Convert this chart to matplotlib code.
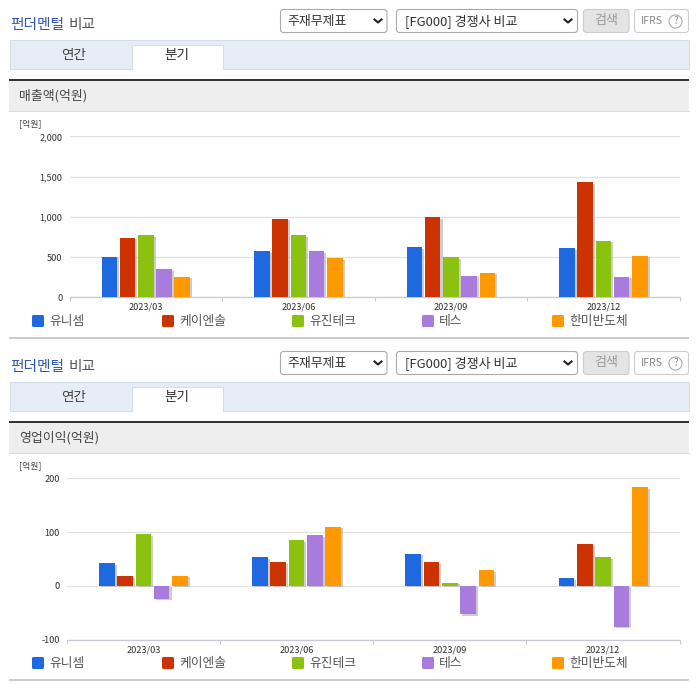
import numpy as np
import matplotlib
matplotlib.use("Agg")
import matplotlib.pyplot as plt
import matplotlib.patheffects as pe
from matplotlib.patches import Rectangle, FancyBboxPatch, Circle

plt.rcParams["font.family"] = ["Noto Sans CJK KR", "DejaVu Sans"]

quarters = ["2023/03", "2023/06", "2023/09", "2023/12"]
companies = ["유니셈", "케이엔솔", "유진테크", "테스", "한미반도체"]
colors = ["#1f69e0", "#cc3300", "#8bc20f", "#a87bdc", "#ff9900"]
legend_x = [32, 162, 292, 422, 552]

# sales, one list per company
sales_unisem = [507, 570, 620, 608]
sales_ksol = [740, 975, 995, 1432]
sales_eugene = [770, 770, 497, 703]
sales_tes = [358, 570, 270, 258]
sales_hanmi = [258, 487, 307, 517]

# operating profit
profit_unisem = [42, 53, 60, 14]
profit_ksol = [18, 43.5, 43.5, 77]
profit_eugene = [96, 84.5, 6, 53]
profit_tes = [-24, 94, -53, -76]
profit_hanmi = [19, 110, 29, 183]

sales_ticks = [0, 500, 1000, 1500, 2000]
profit_ticks = [-100, 0, 100, 200]

W, H = 696, 684
fig = plt.figure(figsize=(W / 100, H / 100), dpi=100)

# whole-figure axes in pixel coordinates for the page furniture
bg = fig.add_axes([0, 0, 1, 1])
bg.set_xlim(0, W)
bg.set_ylim(H, 0)
bg.axis("off")


def rounded(x0, y0, x1, y1, face, edge):
    bg.add_patch(FancyBboxPatch((x0 + 3, y0 + 3), x1 - x0 - 6, y1 - y0 - 6,
                                boxstyle="round,pad=3,rounding_size=3",
                                fc=face, ec=edge, lw=0.8))


def chevron(x, y):
    bg.plot([x - 3.5, x, x + 3.5], [y - 1.5, y + 1.5, y - 1.5], color="#222222", lw=1.5)


def draw_frame(dy, title):
    bg.text(10, 25 + dy, "펀더멘털", color="#3159b0", fontsize=10.6,
            fontweight=500, va="center")
    bg.text(69, 25 + dy, "비교", color="#555555", fontsize=10.6,
            fontweight=500, va="center")

    rounded(280.5, 9.5 + dy, 387, 32.5 + dy, "white", "#aaaaaa")
    bg.text(287, 21 + dy, "주재무제표", fontsize=9.3, color="#333333", va="center")
    chevron(378, 21 + dy)
    rounded(396.5, 9.5 + dy, 577.5, 32.5 + dy, "white", "#aaaaaa")
    bg.text(405, 21 + dy, "[FG000] 경쟁사 비교", fontsize=9.4, color="#333333", va="center")
    chevron(568, 21 + dy)
    rounded(583.5, 9.5 + dy, 629, 32.5 + dy, "#e4e4e4", "#cccccc")
    bg.text(606.5, 20.5 + dy, "검색", fontsize=9.4, color="#999999", va="center", ha="center")
    rounded(634.5, 9.5 + dy, 688.5, 32.5 + dy, "white", "#cccccc")
    bg.text(641, 20.5 + dy, "IFRS", fontsize=7.6, color="#888888", va="center")
    bg.add_patch(Circle((675.5, 21.5 + dy), 6.5, fc="white", ec="#aaaaaa", lw=0.8))
    bg.text(675.5, 21.5 + dy, "?", fontsize=7, color="#888888", va="center", ha="center")

    # tab strip, the active tab is open at the bottom
    bg.add_patch(Rectangle((9.5, 39.5 + dy), 679, 29, fc="#e6edf7", ec="#d5dde8", lw=0.8))
    bg.add_patch(Rectangle((131.5, 44.5 + dy), 91, 25, fc="white", ec="none", zorder=2))
    bg.plot([131.5, 131.5, 222.5, 222.5], [69 + dy, 44.5 + dy, 44.5 + dy, 69 + dy],
            color="#d5dde8", lw=0.8, zorder=3)
    bg.text(74, 55 + dy, "연간", fontsize=9.8, color="#444444", ha="center", va="center", zorder=4)
    bg.text(176.5, 55 + dy, "분기", fontsize=9.8, color="#333333", ha="center", va="center", zorder=4)

    bg.add_patch(Rectangle((9, 81 + dy), 680, 30, fc="#eeeeee", ec="none"))
    bg.plot([9, 689], [111 + dy, 111 + dy], color="#dddddd", lw=0.8)
    bg.add_patch(Rectangle((9, 79 + dy), 680, 2, fc="#333333", ec="none"))
    bg.text(19, 96 + dy, title, fontsize=9.3, color="#444444", va="center")
    bg.text(19.5, 123.5 + dy, "[억원]", fontsize=6.4, color="#444444", va="center")

    for x, c, name in zip(legend_x, colors, companies):
        bg.add_patch(FancyBboxPatch((x + 1.5, 316.5 + dy), 9, 9,
                                    boxstyle="round,pad=1.5,rounding_size=1.5", fc=c, ec="none"))
        bg.text(x + 17, 321 + dy, name, fontsize=9.2, color="#555555", va="center")
    bg.add_patch(Rectangle((9, 337 + dy), 680, 2, fc="#cccccc", ec="none"))


def draw_chart(left, right, top, bottom, series, ticks):
    ax = fig.add_axes([left / W, 1 - bottom / H, (right - left) / W, (bottom - top) / H])
    ax.patch.set_alpha(0)
    ax.set_xlim(-0.5, 3.5)
    ax.set_ylim(ticks[0], ticks[-1])
    x = np.arange(len(quarters))
    shadow = [pe.SimplePatchShadow(offset=(1.5, -1.0), shadow_rgbFace="#b8b8b8", alpha=0.7),
              pe.Normal()]
    for i, (vals, c) in enumerate(zip(series, colors)):
        ax.bar(x + (i - 2) * 0.1195, vals, width=0.102, color=c, zorder=3, path_effects=shadow)
    ax.set_yticks(ticks)
    ax.set_yticklabels([f"{v:,}" for v in ticks], fontsize=6.6, color="#333333")
    ax.tick_params(axis="y", length=0, pad=5)
    ax.set_xticks(np.arange(-0.5, 4, 1))
    ax.set_xticklabels([])
    ax.set_xticks(x, minor=True)
    ax.set_xticklabels(quarters, minor=True, fontsize=6.6, color="#333333")
    ax.tick_params(axis="x", which="major", length=3, color="#c5cad6", width=0.8)
    ax.tick_params(axis="x", which="minor", length=0, pad=4)
    ax.grid(axis="y", color="#e0e0e0", lw=0.9, zorder=0)
    ax.set_axisbelow(True)
    for s in ["top", "left", "right"]:
        ax.spines[s].set_visible(False)
    ax.spines["bottom"].set_color("#c5cad6")
    ax.spines["bottom"].set_linewidth(0.9)
    return ax


draw_frame(0, "매출액(억원)")
draw_frame(342, "영업이익(억원)")

draw_chart(69.5, 679.7, 136.5, 297.3,
           [sales_unisem, sales_ksol, sales_eugene, sales_tes, sales_hanmi], sales_ticks)
draw_chart(66.7, 679.7, 478.3, 639.7,
           [profit_unisem, profit_ksol, profit_eugene, profit_tes, profit_hanmi], profit_ticks)

fig.savefig("out.png", dpi=100)
